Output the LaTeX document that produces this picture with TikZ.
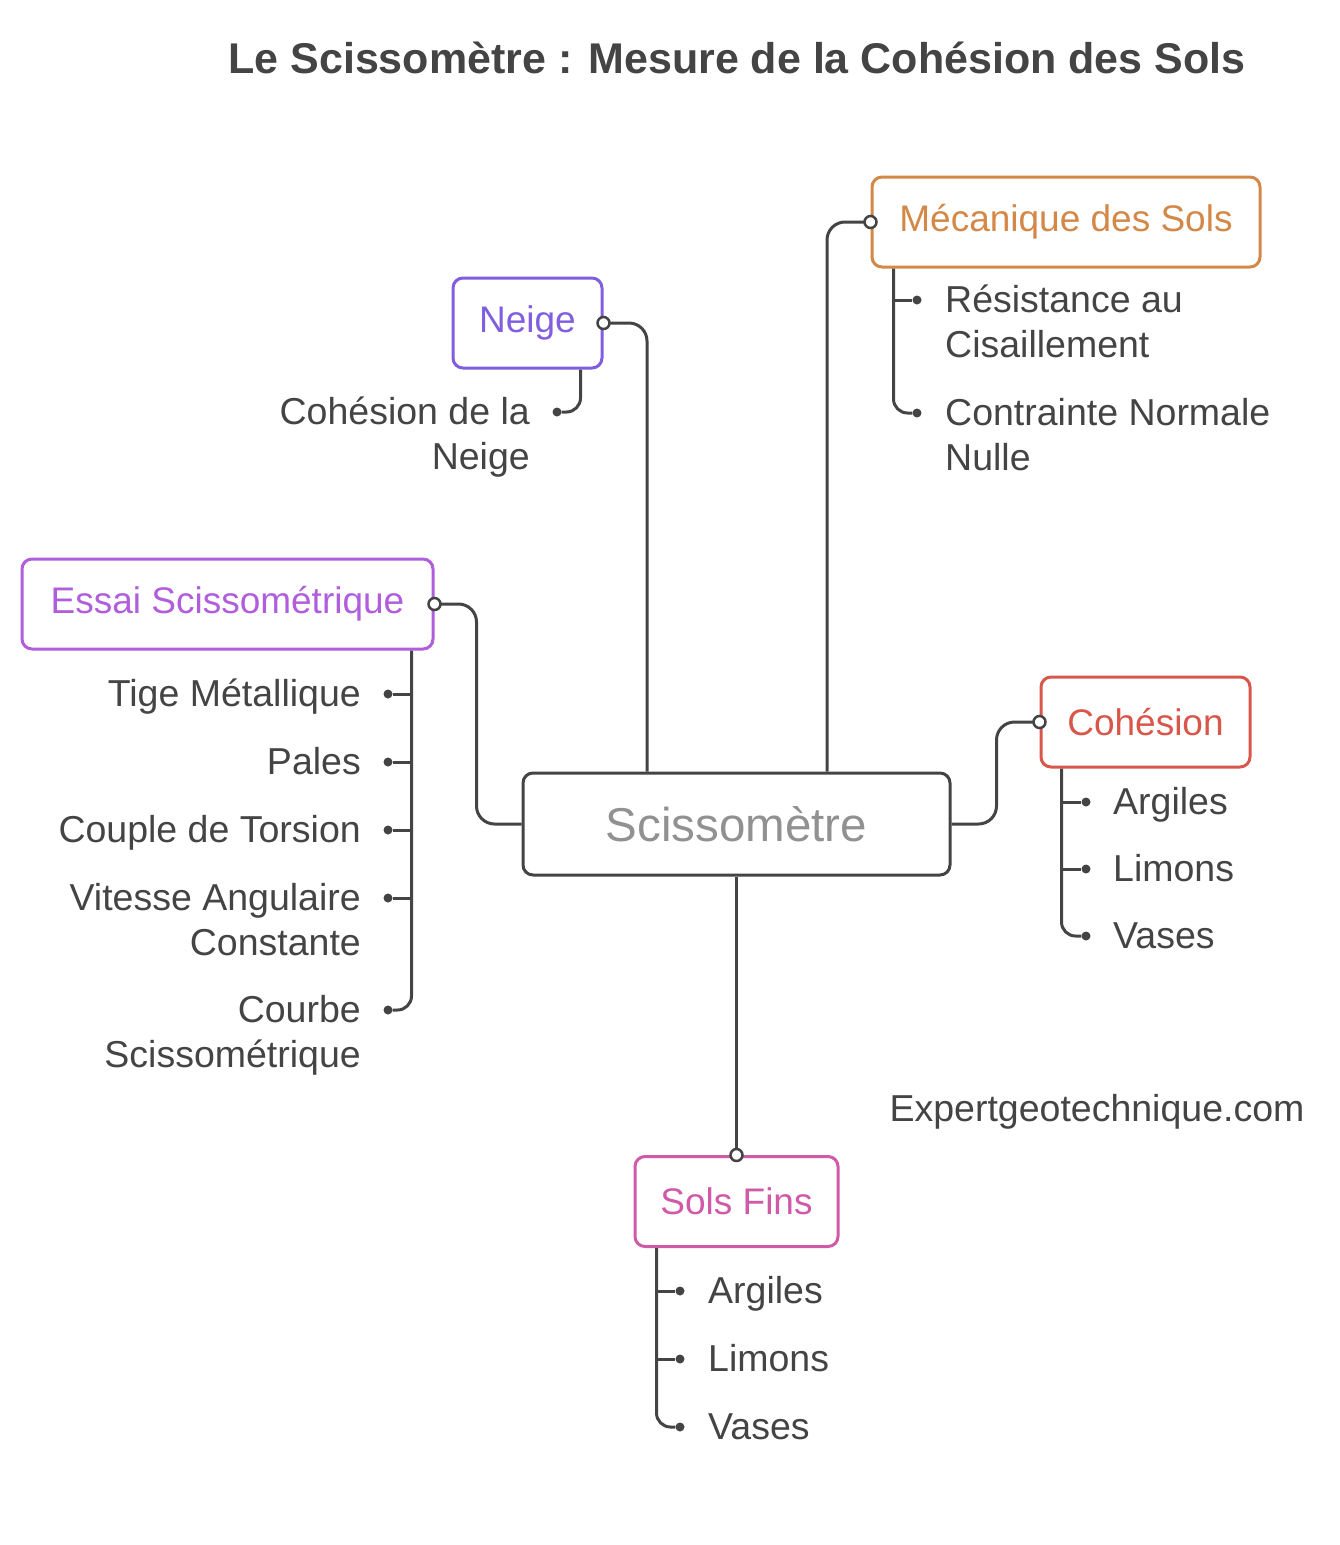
\documentclass[tikz,border=0pt]{standalone}
\usepackage{fontspec}
\setmainfont{Liberation Sans}
\usepackage{tikz}
\usetikzlibrary{positioning, calc}
\definecolor{inkgray}{RGB}{68, 68, 68}
\definecolor{hubgray}{RGB}{145, 145, 145}
\definecolor{neigeviolet}{RGB}{128, 94, 224}
\definecolor{essaiorchid}{RGB}{176, 94, 220}
\definecolor{mecaorange}{RGB}{212, 136, 72}
\definecolor{coherred}{RGB}{217, 87, 74}
\definecolor{solspink}{RGB}{208, 90, 168}

\begin{document}
\begin{tikzpicture}[
    x=1pt, y=-1pt,
    link/.style={draw=inkgray, line width=3pt, rounded corners=18pt},
    topic/.style={rectangle, rounded corners=10pt, draw=#1, line width=3pt, fill=white,
                  text=#1, minimum height=90pt, inner sep=0pt,
                  font=\fontsize{37}{45}\selectfont},
    leaf/.style={text=inkgray, inner sep=0pt, font=\fontsize{37.5}{45}\selectfont},
    port/.style={circle, draw=inkgray, line width=2.5pt, fill=white,
                 minimum size=12pt, inner sep=0pt},
    dot/.style={circle, fill=inkgray, minimum size=9pt, inner sep=0pt}
]
    \useasboundingbox (0, 0) rectangle (1340, 1545);

    % title
    \node[text=inkgray, font=\fontsize{43}{50}\selectfont\bfseries] (title) at (737, 58)
        {Le Scissomètre : Mesure de la Cohésion des Sols};

    % central node and topics
    \node[rectangle, rounded corners=10pt, draw=inkgray, line width=3pt, fill=white,
          text=hubgray, minimum width=427pt, minimum height=102pt,
          font=\fontsize{47.5}{52}\selectfont] (sciss) at (736.5, 824) {Scissomètre};
    \node[topic=neigeviolet, minimum width=149pt] (neige) at (527.5, 323) {Neige};
    \node[topic=mecaorange, minimum width=388pt] (meca) at (1066, 222) {Mécanique des Sols};
    \node[topic=essaiorchid, minimum width=411pt] (essai) at (227.5, 604) {Essai Scissométrique};
    \node[topic=coherred, minimum width=209pt] (cohe) at (1145.5, 722) {Cohésion};
    \node[topic=solspink, minimum width=203pt] (sols) at (736.5, 1201.5) {Sols Fins};

    % links from the centre
    \draw[link] ([xshift=-89.5pt]sciss.north) |- (neige.east);
    \draw[link] ([xshift=90.5pt]sciss.north) |- (meca.west);
    \draw[link] (sciss.west) -- ++(-45, 0) |- (essai.east);
    \draw[link] (sciss.east) -- ++(45, 0) |- (cohe.west);
    \draw[link] (sciss.south) -- (sols.north);
    \node[port] at (neige.east) {};
    \node[port] at (meca.west) {};
    \node[port] at (essai.east) {};
    \node[port] at (cohe.west) {};
    \node[port] at (sols.north) {};

    % Neige
    \coordinate (nt) at ([xshift=-23pt]neige.south east);
    \node[dot] (n1) at (557, 412) {};
    \draw[link, rounded corners=14pt] (nt) |- (n1);
    \node[leaf, anchor=base east, align=right] (cneige) at ([xshift=-27pt, yshift=-57pt]n1)
        {Cohésion de la\\Neige};

    % Mécanique des Sols
    \coordinate (mt) at ([xshift=23pt]meca.south west);
    \node[dot] (m1) at (917, 300) {};
    \node[dot] (m2) at (917, 413) {};
    \draw[link] (m1 -| mt) -- (m1);
    \draw[link, rounded corners=14pt] (mt) |- (m2);
    \node[leaf, anchor=base west, align=left] (resist) at ([xshift=28pt, yshift=-57pt]m1)
        {Résistance au\\Cisaillement};
    \node[leaf, anchor=base west, align=left] (contr) at ([xshift=28pt, yshift=-57pt]m2)
        {Contrainte Normale\\Nulle};

    % Essai Scissométrique
    \coordinate (et) at ([xshift=-23pt]essai.south east);
    \node[dot] (e1) at (388, 694) {};
    \node[dot] (e2) at (388, 762) {};
    \node[dot] (e3) at (388, 830) {};
    \node[dot] (e4) at (388, 898) {};
    \node[dot] (e5) at (388, 1010) {};
    \foreach \d in {e1, e2, e3, e4}
        \draw[link] (\d -| et) -- (\d);
    \draw[link, rounded corners=14pt] (et) |- (e5);
    \node[leaf, anchor=base east] (tige) at ([xshift=-27pt, yshift=-12pt]e1) {Tige Métallique};
    \node[leaf, anchor=base east] (pales) at ([xshift=-27pt, yshift=-12pt]e2) {Pales};
    \node[leaf, anchor=base east] (couple) at ([xshift=-27pt, yshift=-12pt]e3) {Couple de Torsion};
    \node[leaf, anchor=base east, align=right] (vitesse) at ([xshift=-27pt, yshift=-57pt]e4)
        {Vitesse Angulaire\\Constante};
    \node[leaf, anchor=base east, align=right] (courbe) at ([xshift=-27pt, yshift=-57pt]e5)
        {Courbe\\Scissométrique};

    % Cohésion
    \coordinate (ct) at ([xshift=22pt]cohe.south west);
    \node[dot] (c1) at (1086, 802) {};
    \node[dot] (c2) at (1086, 869) {};
    \node[dot] (c3) at (1086, 936) {};
    \draw[link] (c1 -| ct) -- (c1);
    \draw[link] (c2 -| ct) -- (c2);
    \draw[link, rounded corners=14pt] (ct) |- (c3);
    \node[leaf, anchor=base west] (cargiles) at ([xshift=27pt, yshift=-12pt]c1) {Argiles};
    \node[leaf, anchor=base west] (climons) at ([xshift=27pt, yshift=-12pt]c2) {Limons};
    \node[leaf, anchor=base west] (cvases) at ([xshift=27pt, yshift=-12pt]c3) {Vases};

    % Sols Fins
    \coordinate (st) at ([xshift=23pt]sols.south west);
    \node[dot] (s1) at (680, 1291) {};
    \node[dot] (s2) at (680, 1359) {};
    \node[dot] (s3) at (680, 1427) {};
    \draw[link] (s1 -| st) -- (s1);
    \draw[link] (s2 -| st) -- (s2);
    \draw[link, rounded corners=14pt] (st) |- (s3);
    \node[leaf, anchor=base west] (sargiles) at ([xshift=28pt, yshift=-12pt]s1) {Argiles};
    \node[leaf, anchor=base west] (slimons) at ([xshift=28pt, yshift=-12pt]s2) {Limons};
    \node[leaf, anchor=base west] (svases) at ([xshift=28pt, yshift=-12pt]s3) {Vases};

    % site
    \node[leaf] (site) at (1097, 1112) {Expertgeotechnique.com};
\end{tikzpicture}
\end{document}
